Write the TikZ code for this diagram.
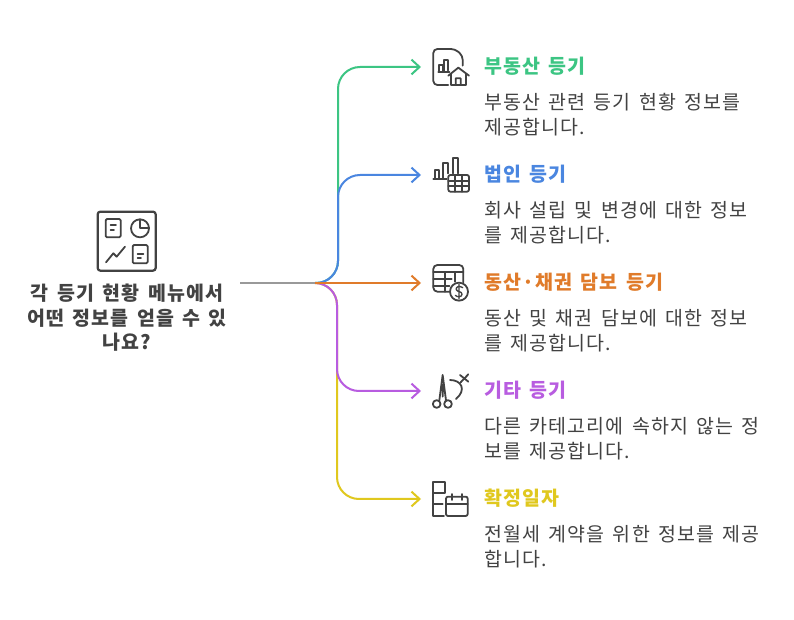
\documentclass[tikz,border=0pt]{standalone}
\usepackage{fontspec}
\setmainfont[LetterSpace=6,WordSpace=1.5]{Noto Sans CJK KR}
\usetikzlibrary{arrows.meta}
\definecolor{ink}{HTML}{424242}
\definecolor{cgreen}{HTML}{3CC583}
\definecolor{cblue}{HTML}{4A86E0}
\definecolor{corange}{HTML}{E07B2A}
\definecolor{cpurple}{HTML}{B85CE0}
\definecolor{cyellow}{HTML}{E0C81E}
\definecolor{cgray}{HTML}{999999}
\tikzset{
  conn/.style={line width=1.5pt,rounded corners=16.5pt,-{Straight Barb[length=6pt,width=11pt,line width=1.5pt]}},
  head/.style={anchor=base west,inner sep=0pt,font=\fontsize{14.6}{18}\selectfont\bfseries},
  body/.style={anchor=north west,inner sep=0pt,align=left,text=ink,font=\fontsize{14.6}{18.75}\selectfont},
  main/.style={inner sep=0pt,align=center,text=ink,font=\fontsize{14.6}{18.4}\selectfont\bfseries},
  ico/.style={draw=ink,line width=1.35pt,line join=round,line cap=round,fill=none},
  zoomed/.style={x=.25pt,y=-.25pt}
}
\begin{document}
\begin{tikzpicture}[x=.75pt,y=-.75pt]
\useasboundingbox (0,0) rectangle (794,620);
\fill[white] (0,0) rectangle (794,620);
\coordinate (root) at (240,283);
\coordinate (hub) at (315,283);
\coordinate (e1) at (421,67);
\coordinate (e2) at (421,175);
\coordinate (e3) at (421,283);
\coordinate (e4) at (421,391);
\coordinate (e5) at (421,499);
% connectors
\draw[conn,cyellow] (hub) -| (337,499) -- (e5);
\draw[conn,cgreen] (hub) -| (338,67) -- (e1);
\draw[conn,cblue] (hub) -| (338,175) -- (e2);
\draw[conn,cpurple] (hub) -| (337,391) -- (e4);
\draw[conn,corange,rounded corners=0pt] (hub) -- (e3);
\draw[line width=1.5pt,cgray] (root) -- (hub);
% texts
\node[main] (q) at (127,318) {각 등기 현황 메뉴에서\\어떤 정보를 얻을 수 있\\나요?};
\node[head,text=cgreen] (h1) at (484,74) {부동산 등기};
\node[head,text=cblue] (h2) at (484,182) {법인 등기};
\node[head,text=corange] (h3) at (484,290) {동산·채권 담보 등기};
\node[head,text=cpurple] (h4) at (484,398) {기타 등기};
\node[head,text=cyellow] (h5) at (484,506) {확정일자};
\node[body] (b1) at (484,93) {부동산 관련 등기 현황 정보를\\제공합니다.};
\node[body] (b2) at (484,201) {회사 설립 및 변경에 대한 정보\\를 제공합니다.};
\node[body] (b3) at (484,309) {동산 및 채권 담보에 대한 정보\\를 제공합니다.};
\node[body] (b4) at (484,417) {다른 카테고리에 속하지 않는 정\\보를 제공합니다.};
\node[body] (b5) at (484,525) {전월세 계약을 위한 정보를 제공\\합니다.};
% central icon
\begin{scope}[shift={(90,205)},zoomed]
\draw[ico,line width=1.7pt,rounded corners=2pt] (23,20) rectangle (197,197);
\draw[ico,rounded corners=1pt] (47,42) rectangle (92,97);
\draw[ico] (62,60)--(78,60) (62,75)--(72,75);
\draw[ico] (150,70) circle (27);
\draw[ico] (150,43)--(150,70)--(177,70);
\draw[ico] (48,172)--(70,145)--(80,155)--(105,125);
\draw[ico,rounded corners=1pt] (128,120) rectangle (173,175);
\draw[ico] (143,148)--(160,148) (143,160)--(153,160);
\end{scope}
% icon 1
\begin{scope}[shift={(420,35)},zoomed]
\draw[ico,rounded corners=3pt] (85,150)--(40,150)--(40,42)--(105,42)--(128,62)--(128,92);
\draw[ico] (55,110)--(88,110) (58,110)--(58,90)--(70,90)--(70,110) (72,110)--(72,75)--(85,75)--(85,106);
\draw[ico] (85,122)--(115,98)--(147,122) (93,116)--(93,150)--(138,150)--(138,116) (107,150)--(107,130)--(122,130)--(122,150);
% icon 2
\draw[ico] (40,432)--(80,432) (44,432)--(44,405)--(57,405)--(57,432) (70,432)--(70,385)--(85,385)--(85,415) (98,415)--(98,368)--(113,368)--(113,415);
\draw[ico,rounded corners=1.5pt] (85,420) rectangle (147,470);
\draw[ico] (85,437)--(147,437) (85,453)--(147,453) (106,420)--(106,470) (126,420)--(126,470);
\end{scope}
% icon 3 and 4
\begin{scope}[shift={(420,255)},zoomed]
\draw[ico,rounded corners=3pt] (88,110)--(40,110)--(40,30)--(130,30)--(130,82);
\draw[ico] (40,52)--(130,52) (40,72)--(95,72) (40,92)--(88,92) (75,52)--(75,110) (105,52)--(105,80);
\draw[ico] (117,110) circle (27);
\draw[ico,line width=1pt] (128,98) .. controls (118,90) and (106,96) .. (109,104) .. controls (112,112) and (126,108) .. (126,118) .. controls (126,126) and (112,128) .. (106,121) (117,88)--(117,132);
\draw[ico] (68,360)--(58,436) (68,360)--(78,436) (68,390)--(68,425);
\draw[ico] (50,447) circle (11.5) (84,447) circle (11.5);
\draw[ico] (90,375) .. controls (125,375) and (140,405) .. (108,432);
\draw[ico] (120,360)--(145,380) (145,358)--(122,382);
\end{scope}
% icon 5
\begin{scope}[shift={(420,470)},zoomed]
\draw[ico] (40,35) rectangle (75,70);
\draw[ico] (40,70)--(40,138)--(72,138) (40,102)--(68,102);
\draw[ico,rounded corners=1.5pt] (78,80) rectangle (143,138);
\draw[ico] (78,102)--(143,102) (95,72)--(95,90) (125,72)--(125,90);
\end{scope}
\end{tikzpicture}
\end{document}
